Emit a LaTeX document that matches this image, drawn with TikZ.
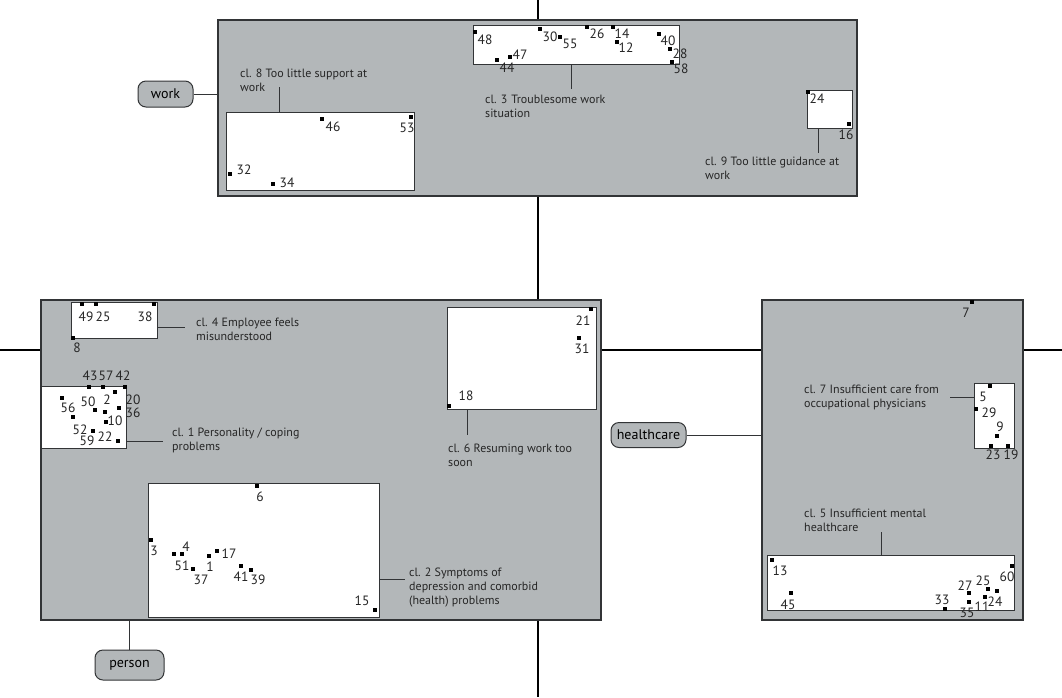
\documentclass[tikz,border=0pt]{standalone}
\usepackage{fontspec}
\setmainfont{PT Sans}
\usetikzlibrary{positioning}
\definecolor{panelgray}{RGB}{179,183,185}
\definecolor{edgegray}{RGB}{50,52,54}

\begin{document}
\begin{tikzpicture}[x=1pt, y=-1pt,
    axis/.style={line width=1.5pt, black},
    panel/.style={draw=edgegray, line width=1.3pt, fill=panelgray, inner sep=0pt, outer sep=0pt},
    clbox/.style={draw=edgegray, line width=1pt, fill=white, inner sep=0pt, outer sep=0pt},
    cat/.style={draw=edgegray, line width=1pt, fill=panelgray, rounded corners=8pt, inner sep=0pt, font=\fontsize{14}{16}\selectfont},
    lead/.style={line width=1pt, edgegray},
    lbl/.style={align=left, inner sep=0pt, text=black!85, font=\fontsize{12}{13.6}\selectfont},
    num/.style={inner sep=0pt, text=black!85, font=\fontsize{13.5}{15}\selectfont},
    pt/.style={fill=black, minimum size=4pt, inner sep=0pt}]
    \useasboundingbox (0,0) rectangle (1062,697);

    % axes
    \coordinate (ytop) at (538,0);
    \coordinate (ybot) at (538,697);
    \coordinate (xleft) at (0,350);
    \coordinate (xright) at (1062,350);
    \draw[axis] (ytop) -- (ybot);
    \draw[axis] (xleft) -- (xright);

    % panels
    \node[panel, minimum width=639pt, minimum height=176pt] (workp) at (537.5,108) {};
    \node[panel, minimum width=560pt, minimum height=320pt] (persp) at (321,460) {};
    \node[panel, minimum width=261pt, minimum height=320pt] (hcp) at (892.5,460) {};

    % categories
    \node[cat, minimum width=55pt, minimum height=26pt] (work) at (165.5,94) {work};
    \node[cat, minimum width=69pt, minimum height=30pt] (person) at (129.5,665) {person};
    \node[cat, minimum width=75pt, minimum height=25pt] (health) at (648.5,435) {healthcare};
    \draw[lead] (work.east) -- (work.east -| workp.west);
    \draw[lead] (person.north) -- (person.north |- persp.south);
    \draw[lead] (health.east) -- (health.east -| hcp.west);

    % cluster boxes
    \node[clbox, minimum width=206pt, minimum height=39pt] (c3) at (576,44.5) {};
    \node[clbox, minimum width=188pt, minimum height=78pt] (c8) at (320,151) {};
    \node[clbox, minimum width=45pt, minimum height=38pt] (c9) at (829.5,109) {};
    \node[clbox, minimum width=86pt, minimum height=36pt] (c4) at (114,320) {};
    \node[clbox, minimum width=85pt, minimum height=62pt] (c1) at (83.5,417) {};
    \node[clbox, minimum width=231pt, minimum height=134pt] (c2) at (263.5,550) {};
    \node[clbox, minimum width=149pt, minimum height=102pt] (c6) at (521.5,358) {};
    \node[clbox, minimum width=40pt, minimum height=65pt] (c7) at (994,415.5) {};
    \node[clbox, minimum width=247pt, minimum height=55pt] (c5) at (890.5,582.5) {};

    % cluster labels (placed at the baseline of their last line)
    \node[lbl, anchor=base west] (l3) at (485,117) {cl. 3\,\,Troublesome work\\situation};
    \node[lbl, anchor=base west] (l8) at (240,91) {cl. 8 Too little support at\\work};
    \node[lbl, anchor=base west] (l9) at (705,179.5) {cl. 9 Too little guidance at\\work};
    \node[lbl, anchor=base west] (l4) at (196,340) {cl. 4 Employee feels\\misunderstood};
    \node[lbl, anchor=base west] (l1) at (172,450.5) {cl. 1 Personality / coping\\problems};
    \node[lbl, anchor=base west] (l2) at (409,604) {cl. 2 Symptoms of\\depression and comorbid\\(health) problems};
    \node[lbl, anchor=base west] (l6) at (448,466.5) {cl. 6 Resuming work too\\soon};
    \node[lbl, anchor=base west] (l7) at (804,407) {cl. 7 Insufficient care from\\occupational physicians};
    \node[lbl, anchor=base west] (l5) at (804,531) {cl. 5 Insufficient mental\\healthcare};

    % leaders
    \coordinate (e3) at (571,89);
    \coordinate (e8) at (279,87);
    \coordinate (e9) at (818,153);
    \coordinate (e4) at (185,327);
    \coordinate (e1) at (163,441);
    \coordinate (e2) at (405,579);
    \coordinate (e6) at (467,435);
    \coordinate (e7) at (950,397);
    \coordinate (e5) at (881,532);
    \draw[lead] (c3.south -| e3) -- (e3);
    \draw[lead] (c8.north -| e8) -- (e8);
    \draw[lead] (c9.south -| e9) -- (e9);
    \draw[lead] (c4.east |- e4) -- (e4);
    \draw[lead] (c1.east |- e1) -- (e1);
    \draw[lead] (c2.east |- e2) -- (e2);
    \draw[lead] (c6.south -| e6) -- (e6);
    \draw[lead] (c7.west |- e7) -- (e7);
    \draw[lead] (c5.north -| e5) -- (e5);

    % cases: square x/y, number, number x/y
    \foreach \sx/\sy/\t/\lx/\ly in {475/32/48/485/40, 540/29/30/550/37, 560/37/55/570/44,
        587/27/26/597/34, 613/27/14/622/34, 617/42/12/626/48, 659/34/40/668/41,
        670/49/28/680/54, 672/62/58/681/69, 510/57/47/520/55, 497/60/44/507/68}
      {\node[pt] (s3-\t) at (\sx,\sy) {}; \node[num] (n3-\t) at (\lx,\ly) {\t};}
    \foreach \sx/\sy/\t/\lx/\ly in {322/119/46/333/127, 411/117/53/407/128,
        230/174/32/244/170, 273/184/34/287/183}
      {\node[pt] (s8-\t) at (\sx,\sy) {}; \node[num] (n8-\t) at (\lx,\ly) {\t};}
    \foreach \sx/\sy/\t/\lx/\ly in {808/92/24/817/99, 849/124/16/846/135}
      {\node[pt] (s9-\t) at (\sx,\sy) {}; \node[num] (n9-\t) at (\lx,\ly) {\t};}
    \foreach \sx/\sy/\t/\lx/\ly in {82/304/49/86/317, 96/304/25/103/317,
        154/304/38/145/317, 73/338/8/77/348}
      {\node[pt] (s4-\t) at (\sx,\sy) {}; \node[num] (n4-\t) at (\lx,\ly) {\t};}
    \foreach \sx/\sy/\t/\lx/\ly in {89/387/43/90/376, 103/387/57/106/376, 125/387/42/123/376,
        62/398/56/68/408, 95/410/50/88/402, 115/392/2/107/400, 119/408/20/133/400,
        105/412/36/133/413, 106/422/10/115/421, 73/417/52/80/430, 93/431/22/105/437,
        118/441/59/87/441}
      {\node[pt] (s1-\t) at (\sx,\sy) {}; \node[num] (n1-\t) at (\lx,\ly) {\t};}
    \foreach \sx/\sy/\t/\lx/\ly in {257/486/6/260/497, 151/540/3/154/551, 182/554/4/186/547,
        174/554/51/182/566, 209/556/1/210/567, 217/551/17/229/554, 193/569/37/201/580,
        241/566/41/241/577, 251/570/39/258/580, 375/610/15/362/601}
      {\node[pt] (s2-\t) at (\sx,\sy) {}; \node[num] (n2-\t) at (\lx,\ly) {\t};}
    \foreach \sx/\sy/\t/\lx/\ly in {591/309/21/583/321, 579/338/31/582/349, 449/406/18/466/396}
      {\node[pt] (s6-\t) at (\sx,\sy) {}; \node[num] (n6-\t) at (\lx,\ly) {\t};}
    \node[pt] (s0-7) at (972,302) {};
    \node[num] (n0-7) at (966,313) {7};
    \foreach \sx/\sy/\t/\lx/\ly in {990/386/5/983/397, 976/409/29/989/413, 997/436/9/1000/427,
        991/446/23/993/455, 1008/446/19/1011/455}
      {\node[pt] (s7-\t) at (\sx,\sy) {}; \node[num] (n7-\t) at (\lx,\ly) {\t};}
    \foreach \sx/\sy/\t/\lx/\ly in {772/560/13/780/571, 791/593/45/788/605, 945/609/33/942/600,
        969/593/27/965/586, 969/602/35/967/613, 985/597/11/982/607, 988/589/25/983/581,
        997/591/24/995/602, 1012/566/60/1007/577}
      {\node[pt] (s5-\t) at (\sx,\sy) {}; \node[num] (n5-\t) at (\lx,\ly) {\t};}
\end{tikzpicture}
\end{document}
